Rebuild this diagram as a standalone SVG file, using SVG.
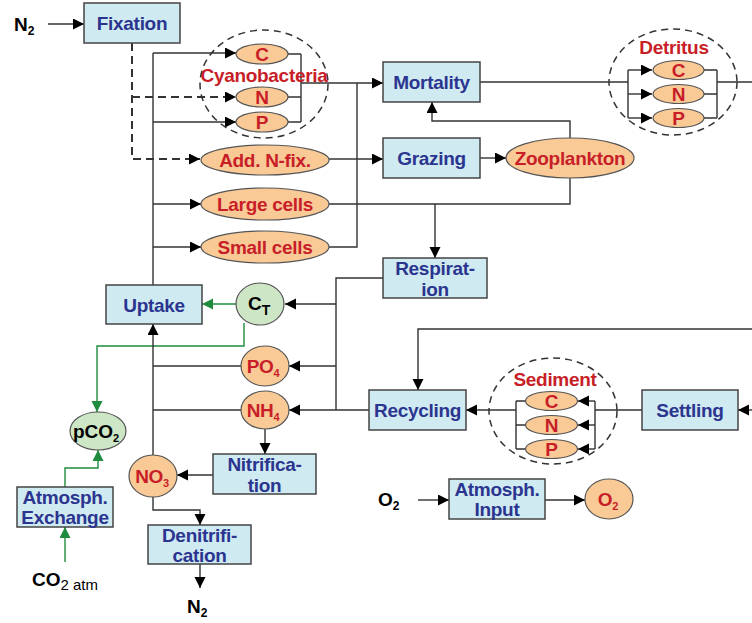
<svg xmlns="http://www.w3.org/2000/svg" width="752" height="623" viewBox="0 0 752 623">
<defs>
<marker id="ah" markerUnits="userSpaceOnUse" markerWidth="12" markerHeight="12" refX="11" refY="5.5" orient="auto"><path d="M0,0 L11,5.5 L0,11 z" fill="#000"/></marker>
<marker id="ag" markerUnits="userSpaceOnUse" markerWidth="12" markerHeight="12" refX="11" refY="5.5" orient="auto"><path d="M0,0 L11,5.5 L0,11 z" fill="#1e8c3c"/></marker>
<style>
.ln{fill:none;stroke:#333;stroke-width:1.4}
.ar{marker-end:url(#ah)}
.ds{fill:none;stroke:#333;stroke-width:2;stroke-dasharray:8,5}
.gr{fill:none;stroke:#1e8c3c;stroke-width:1.4;marker-end:url(#ag)}
.box{fill:#cfeaf1;stroke:#444;stroke-width:1.5}
.el{fill:#f9c996;stroke:#555;stroke-width:1.2}
.ge{fill:#cde6c5;stroke:#555;stroke-width:1.2}
.grp{fill:none;stroke:#333;stroke-width:1.5;stroke-dasharray:7,5}
.bt{font-family:"Liberation Sans",Arial,sans-serif;font-weight:bold;font-size:19px;letter-spacing:-0.3px;fill:#2b3590;text-anchor:middle}
.rt{font-family:"Liberation Sans",Arial,sans-serif;font-weight:bold;font-size:19px;letter-spacing:-0.3px;fill:#c81e28;text-anchor:middle}
.kt{font-family:"Liberation Sans",Arial,sans-serif;font-weight:bold;font-size:19px;fill:#000}
</style>
</defs>
<rect width="752" height="623" fill="#fff"/>
<g id="connectors">
<path class="ln ar" d="M48,24 H84"/>
<path class="ds ar" d="M132,43 V159 H200"/>
<path class="ds ar" d="M132,97 H236"/>
<path class="ln" d="M153,285 V53"/>
<path class="ln ar" d="M153,53 H236"/>
<path class="ln ar" d="M153,122 H236"/>
<path class="ln ar" d="M153,204 H201"/>
<path class="ln ar" d="M153,247 H201"/>
<path class="ln" d="M288,54 H301 M288,97 H301 M288,122 H301 M301,54 V122"/>
<path class="ln ar" d="M301,83 H383"/>
<path class="ln" d="M357,83 V247 H329"/>
<path class="ln ar" d="M329,159 H383"/>
<path class="ln ar" d="M480,158 H506"/>
<path class="ln ar" d="M570,138 V121 H432 V102"/>
<path class="ln" d="M329,204 H570 V178"/>
<path class="ln ar" d="M435,204 V258"/>
<path class="ln" d="M480,82 H628 M628,70 V118"/>
<path class="ln ar" d="M628,70 H652"/>
<path class="ln ar" d="M628,94 H652"/>
<path class="ln ar" d="M628,118 H652"/>
<path class="ln" d="M704,70 H717 M704,94 H717 M704,118 H717 M717,70 V118 M717,82 H752"/>
<path class="ln" d="M383,278 H336 V410"/>
<path class="ln ar" d="M336,304 H285"/>
<path class="ln ar" d="M336,366 H289"/>
<path class="ln ar" d="M369,410 H289"/>
<path class="gr" d="M237,304 H202"/>
<path class="gr" d="M244,323 V346 H97 V412"/>
<path class="ln" d="M241,366 H153 M241,410 H153"/>
<path class="ln ar" d="M153,455 V324"/>
<path class="ln ar" d="M265,429 V454"/>
<path class="ln ar" d="M213,475 H177"/>
<path class="ln ar" d="M153,497 V510 H200 V525"/>
<path class="ln ar" d="M200,564 V588"/>
<path class="gr" d="M65,562 V527"/>
<path class="gr" d="M65,487 V468 H98 V450"/>
<path class="ln ar" d="M752,329 H418 V390"/>
<path class="ln" d="M525,401 H516 M525,425 H516 M525,449 H516 M516,401 V449"/>
<path class="ln ar" d="M516,410 H466"/>
<path class="ln" d="M642,410 H595 M595,401 V449"/>
<path class="ln ar" d="M595,401 H578"/>
<path class="ln ar" d="M595,425 H578"/>
<path class="ln ar" d="M595,449 H578"/>
<path class="ln ar" d="M752,410 H738"/>
<path class="ln ar" d="M418,500 H449"/>
<path class="ln ar" d="M545,500 H585"/>
</g>
<g id="n2_in"><text class="kt" x="14" y="31">N<tspan font-size="12" dy="4">2</tspan></text></g>
<g id="fixation"><rect class="box" x="84" y="3" width="96" height="40"/><text class="bt" x="132" y="30">Fixation</text></g>
<g id="cyanobacteria">
<ellipse class="grp" cx="264" cy="84" rx="64" ry="54"/>
<ellipse class="el" cx="262" cy="54" rx="26" ry="10"/><text class="rt" x="262" y="61">C</text>
<ellipse class="el" cx="262" cy="97" rx="26" ry="10"/><text class="rt" x="262" y="104">N</text>
<ellipse class="el" cx="262" cy="122" rx="26" ry="10"/><text class="rt" x="262" y="129">P</text>
<text class="rt" x="264" y="82">Cyanobacteria</text>
</g>
<g id="addnfix"><ellipse class="el" cx="265" cy="160" rx="64" ry="15"/><text class="rt" x="265" y="167">Add. N-fix.</text></g>
<g id="largecells"><ellipse class="el" cx="265" cy="204" rx="64" ry="16"/><text class="rt" x="265" y="211">Large cells</text></g>
<g id="smallcells"><ellipse class="el" cx="265" cy="247" rx="64" ry="16"/><text class="rt" x="265" y="254">Small cells</text></g>
<g id="mortality"><rect class="box" x="383" y="62" width="97" height="40"/><text class="bt" x="431.5" y="89">Mortality</text></g>
<g id="grazing"><rect class="box" x="383" y="138" width="97" height="40"/><text class="bt" x="431.5" y="165">Grazing</text></g>
<g id="zooplankton"><ellipse class="el" cx="570" cy="158" rx="64" ry="20"/><text class="rt" x="570" y="165">Zooplankton</text></g>
<g id="detritus">
<ellipse class="grp" cx="673" cy="82" rx="64" ry="53"/>
<text class="rt" x="674" y="54">Detritus</text>
<ellipse class="el" cx="678.5" cy="70" rx="25.5" ry="9.5"/><text class="rt" x="678.5" y="77">C</text>
<ellipse class="el" cx="678.5" cy="94" rx="25.5" ry="9.5"/><text class="rt" x="678.5" y="101">N</text>
<ellipse class="el" cx="678.5" cy="118" rx="25.5" ry="9.5"/><text class="rt" x="678.5" y="125">P</text>
</g>
<g id="respiration"><rect class="box" x="383" y="258" width="104" height="40"/><text class="bt" x="435" y="275">Respirat-</text><text class="bt" x="435" y="296">ion</text></g>
<g id="uptake"><rect class="box" x="106" y="285" width="96" height="39"/><text class="bt" x="154" y="312">Uptake</text></g>
<g id="ct"><ellipse class="ge" cx="260" cy="304" rx="24" ry="21"/><text class="kt" x="248" y="310">C<tspan font-size="14" dy="5">T</tspan></text></g>
<g id="po4"><ellipse class="el" cx="265" cy="366" rx="24" ry="20"/><text class="rt" x="263" y="373">PO<tspan font-size="11" dy="4">4</tspan></text></g>
<g id="nh4"><ellipse class="el" cx="265" cy="410" rx="24" ry="19"/><text class="rt" x="263" y="417">NH<tspan font-size="11" dy="4">4</tspan></text></g>
<g id="no3"><ellipse class="el" cx="153" cy="476" rx="24" ry="21"/><text class="rt" x="152" y="483">NO<tspan font-size="11" dy="4">3</tspan></text></g>
<g id="nitrification"><rect class="box" x="213" y="454" width="103" height="40"/><text class="bt" x="264.5" y="471">Nitrifica-</text><text class="bt" x="264.5" y="492">tion</text></g>
<g id="denitrification"><rect class="box" x="148" y="525" width="103" height="39"/><text class="bt" x="199.5" y="542">Denitrifi-</text><text class="bt" x="199.5" y="562">cation</text></g>
<g id="n2_out"><text class="kt" x="187" y="613">N<tspan font-size="12" dy="4">2</tspan></text></g>
<g id="pco2"><ellipse class="ge" cx="98" cy="431" rx="28" ry="19"/><text class="kt" x="96" y="438" text-anchor="middle">pCO<tspan font-size="11" dy="4">2</tspan></text></g>
<g id="atmexchange"><rect class="box" x="17" y="487" width="96" height="40"/><text class="bt" x="65" y="504">Atmosph.</text><text class="bt" x="65" y="524">Exchange</text></g>
<g id="co2atm"><text class="kt" x="32" y="586">CO<tspan font-size="15" font-weight="normal" dy="4">2 atm</tspan></text></g>
<g id="recycling"><rect class="box" x="369" y="390" width="97" height="40"/><text class="bt" x="417.5" y="417">Recycling</text></g>
<g id="sediment">
<ellipse class="grp" cx="553" cy="411" rx="64" ry="53"/>
<text class="rt" x="555" y="386">Sediment</text>
<ellipse class="el" cx="551.5" cy="401" rx="26" ry="9.5"/><text class="rt" x="551.5" y="408">C</text>
<ellipse class="el" cx="551.5" cy="425" rx="26" ry="9.5"/><text class="rt" x="551.5" y="432">N</text>
<ellipse class="el" cx="551.5" cy="449" rx="26" ry="9.5"/><text class="rt" x="551.5" y="456">P</text>
</g>
<g id="settling"><rect class="box" x="642" y="390" width="96" height="40"/><text class="bt" x="690" y="417">Settling</text></g>
<g id="o2_in"><text class="kt" x="378" y="506">O<tspan font-size="12" dy="4">2</tspan></text></g>
<g id="atminput"><rect class="box" x="449" y="479" width="96" height="40"/><text class="bt" x="497" y="496">Atmosph.</text><text class="bt" x="497" y="516">Input</text></g>
<g id="o2"><ellipse class="el" cx="609" cy="499" rx="24" ry="20"/><text class="rt" x="608" y="506">O<tspan font-size="11" dy="4">2</tspan></text></g>
</svg>
